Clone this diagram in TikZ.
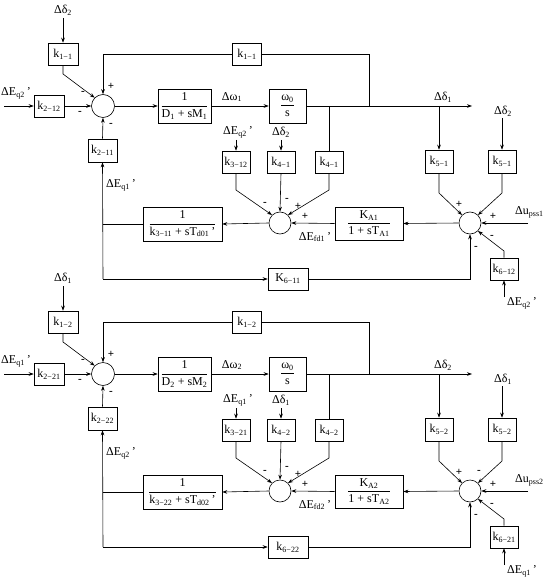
\documentclass[tikz,border=0pt]{standalone}
\usepackage{amsmath}
\usepackage{fontspec}
\setmainfont{Liberation Serif}
\usetikzlibrary{arrows.meta}
\newcommand\sbs[1]{\textsubscript{#1}}
\newcommand\bfnt{\fontsize{12}{14}\selectfont}
\tikzset{
  blk/.style={draw, rectangle, inner sep=0pt, line width=0.6pt, font=\bfnt},
  sumc/.style={draw, circle, minimum size=23pt, inner sep=0pt, line width=0.6pt},
  lbl/.style={inner sep=0pt, font=\bfnt},
  sg/.style={inner sep=0pt, font=\fontsize{11}{12}\selectfont\bfseries},
  arr/.style={-{Stealth[length=5pt,width=3.6pt]}},
  ln/.style={line width=0.6pt},
}
% #1 prefix, #2 i, #3 j, #4 ij, #5 ii, #6 K letter, #7 extra sign, #8 y offset
\newcommand\half[8]{%
\begin{scope}[shift={(0,#8)}]
  % labels of inputs
  \node[lbl] (#1tin) at (63,10) {Δδ\sbs{#3}};
  \coordinate (#1tinc) at (63,18);
  \node[lbl] (#1lin) at (16,93) {ΔE\sbs{q#3}\,'};
  \coordinate (#1linc) at (4,106);
  % boxes
  \node[blk, minimum width=30pt, minimum height=22pt] (#1k1) at (63,54) {k\sbs{1−#2}};
  \node[blk, minimum width=30pt, minimum height=22pt] (#1k2) at (49,106) {k\sbs{2−#4}};
  \node[sumc] (#1s1) at (103,106) {};
  \node[blk, minimum width=53pt, minimum height=34pt] (#1g) at (184.5,106) {$\dfrac{\text{1}}{\text{D\sbs{#2} + sM\sbs{#2}}}$};
  \node[lbl] (#1wl) at (232,97) {Δω\sbs{#2}};
  \node[blk, minimum width=37pt, minimum height=34pt] (#1w) at (287.5,106) {$\dfrac{\text{ω\sbs{0}}}{\text{s}}$};
  \coordinate (#1j1) at (329,106);
  \coordinate (#1j2) at (369,106);
  \coordinate (#1j3) at (439,106);
  \coordinate (#1out) at (472,106);
  \node[lbl] (#1outl) at (443,97) {Δδ\sbs{#2}};
  \node[blk, minimum width=29pt, minimum height=22pt] (#1kf) at (247,54) {k\sbs{1−#2}};
  \coordinate (#1f1) at (369,54);
  \coordinate (#1f2) at (103,54);
  % k5 boxes
  \node[blk, minimum width=28pt, minimum height=23pt] (#1k5a) at (439,161.5) {k\sbs{5−#2}};
  \node[blk, minimum width=28pt, minimum height=23pt] (#1k5b) at (502,161.5) {k\sbs{5−#2}};
  \node[lbl] (#1k5bl) at (503,111) {Δδ\sbs{#3}};
  \coordinate (#1k5bc) at (502,118);
  % right summer
  \node[sumc, minimum size=22pt] (#1s2) at (470,223) {};
  \coordinate (#1b5a) at (439,193);
  \coordinate (#1b5b) at (502,193);
  \node[lbl, anchor=west] (#1ups) at (515,212) {Δu\sbs{pss#2}};
  \coordinate (#1upsc) at (528,223);
  \node[blk, minimum width=28pt, minimum height=22pt] (#1k6) at (504,269) {k\sbs{6−#4}};
  \coordinate (#1b6) at (504,251);
  \node[lbl] (#1k6l) at (522,303) {ΔE\sbs{q#3}\,'};
  \coordinate (#1k6c) at (504,297);
  \node[blk, minimum width=40pt, minimum height=22pt] (#1kk6) at (288,279) {#6\sbs{6−#5}};
  \coordinate (#1c6a) at (103,279);
  \coordinate (#1c6b) at (470,279);
  % KA block
  \node[blk, minimum width=68pt, minimum height=33pt] (#1ka) at (369,223.5) {$\dfrac{\text{K\sbs{A#2}}}{\text{1 + sT\sbs{A#2}}}$};
  \node[sumc, minimum size=22pt] (#1s3) at (280,223) {};
  \node[lbl] (#1efd) at (315,237) {ΔE\sbs{fd#2}\,'};
  % k3 k4 boxes
  \node[blk, minimum width=28pt, minimum height=22pt] (#1k3) at (236,162) {k\sbs{3−#4}};
  \node[blk, minimum width=28pt, minimum height=22pt] (#1k4) at (281,162) {k\sbs{4−#2}};
  \node[blk, minimum width=28pt, minimum height=22pt] (#1k4b) at (329,162) {k\sbs{4−#2}};
  \node[lbl] (#1k3l) at (238,132) {ΔE\sbs{q#3}\,'};
  \node[lbl] (#1k4l) at (281,132) {Δδ\sbs{#3}};
  \coordinate (#1k3c) at (236,140);
  \coordinate (#1k4c) at (281,140);
  \coordinate (#1b3) at (236,190);
  \coordinate (#1b4) at (329,190);
  % T block
  \node[blk, minimum width=79pt, minimum height=34pt] (#1t) at (182.5,224) {$\dfrac{\text{1}}{\text{k\sbs{3−#5} + sT\sbs{d0#2}\,'}}$};
  \coordinate (#1c1) at (103,224);
  \node[blk, minimum width=29pt, minimum height=23pt] (#1k2b) at (102.5,150.5) {k\sbs{2−#5}};
  \node[lbl] (#1eql) at (121,185) {ΔE\sbs{q#2}\,'};
  \coordinate (#1b1) at (63,74);
  % connectors
  \draw[ln,arr] (#1tinc) -- (#1k1.north);
  \draw[ln,arr] (#1k1.south) -- (#1b1) -- (#1s1.135);
  \draw[ln,arr] (#1linc) -- (#1k2.west);
  \draw[ln,arr] (#1k2.east) -- (#1s1.west);
  \draw[ln,arr] (#1s1.east) -- (#1g.west);
  \draw[ln,arr] (#1g.east) -- (#1w.west);
  \draw[ln,arr] (#1w.east) -- (#1out);
  \draw[ln] (#1j2) -- (#1f1) -- (#1kf.east);
  \draw[ln,arr] (#1kf.west) -- (#1f2) -- (#1s1.north);
  \draw[ln,arr] (#1j3) -- (#1k5a.north);
  \draw[ln,arr] (#1k5bc) -- (#1k5b.north);
  \draw[ln,arr] (#1k5a.south) -- (#1b5a) -- (#1s2.135);
  \draw[ln,arr] (#1k5b.south) -- (#1b5b) -- (#1s2.45);
  \draw[ln,arr] (#1upsc) -- (#1s2.east);
  \draw[ln,arr] (#1k6c) -- (#1k6.south);
  \draw[ln,arr] (#1k6.north) -- (#1b6) -- (#1s2.-45);
  \draw[ln,arr] (#1c6a) -- (#1kk6.west);
  \draw[ln,arr] (#1kk6.east) -- (#1c6b) -- (#1s2.south);
  \draw[ln,arr] (#1s2.west) -- (#1ka.east);
  \draw[ln,arr] (#1ka.west) -- (#1s3.east);
  \draw[ln,arr] (#1k3c) -- (#1k3.north);
  \draw[ln,arr] (#1k4c) -- (#1k4.north);
  \draw[ln] (#1j1) -- (#1k4b.north);
  \draw[ln,arr] (#1k3.south) -- (#1b3) -- (#1s3.135);
  \draw[ln,arr] (#1k4.south) -- (#1s3.north);
  \draw[ln,arr] (#1k4b.south) -- (#1b4) -- (#1s3.45);
  \draw[ln,arr] (#1s3.west) -- (#1t.east);
  \draw[ln] (#1t.west) -- (#1c1);
  \draw[ln,arr] (#1c6a) -- (#1k2b.south);
  \draw[ln,arr] (#1k2b.north) -- (#1s1.south);
  % signs
  \node[sg] at (83,93) {-};
  \node[sg] at (80,113) {-};
  \node[sg] at (111,86) {+};
  \node[sg] at (111,125) {-};
  \node[sg] at (265,204) {-};
  \node[sg] at (287,200) {-};
  \node[sg] at (298,206) {+};
  \node[sg] at (305,216) {+};
  \node[sg] at (459,204) {+};
  \node[sg] at (493,216) {+};
  \node[sg] at (492,237) {-};
  \node[sg] at (476,248) {-};
  #7
\end{scope}}
\begin{document}
\begin{tikzpicture}[x=1pt,y=-1pt]
  \useasboundingbox (0,0) rectangle (544,580);
  \fill[white] (0,0) rectangle (544,580);
  \half{a}{1}{2}{12}{11}{K}{}{0}
  \half{b}{2}{1}{21}{22}{k}{\node[sg] at (479,204) {-};}{268}
\end{tikzpicture}
\end{document}
